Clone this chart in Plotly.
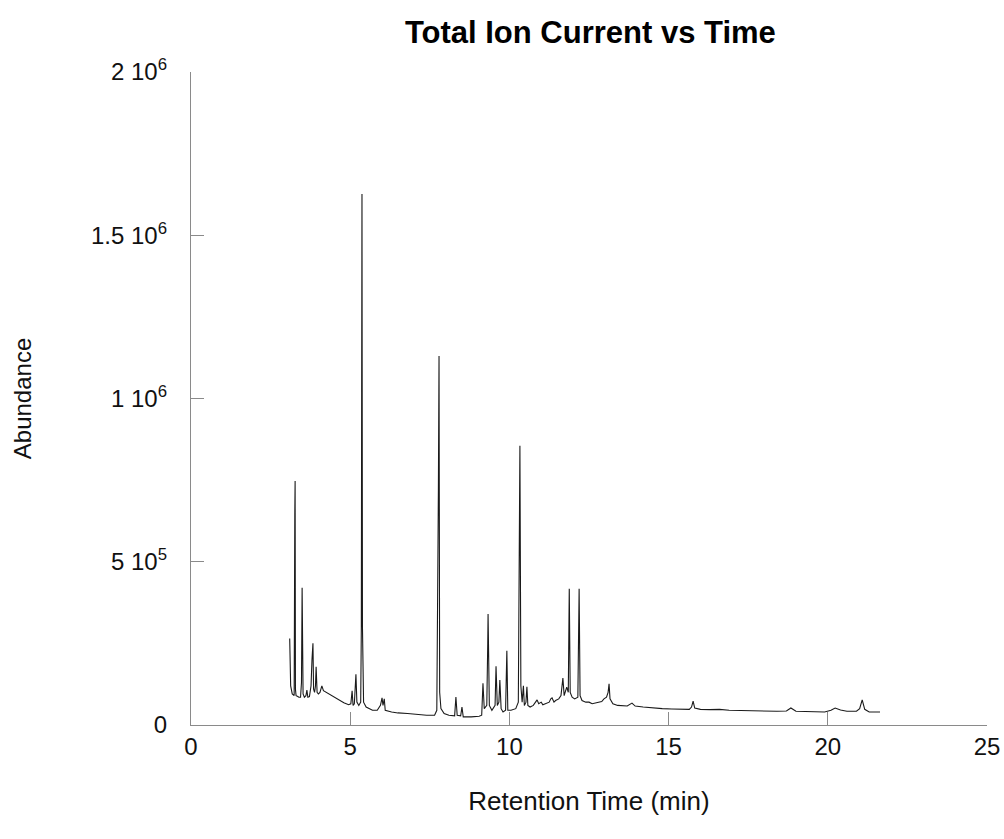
import plotly.graph_objects as go

# Retention time (min) and abundance (counts)
rt_min = [
    3.10, 3.13, 3.18, 3.24, 3.26, 3.27, 3.28, 3.30, 3.34, 3.39, 3.44, 3.47, 3.49, 3.50, 3.52,
    3.56, 3.61, 3.64, 3.67, 3.72, 3.77, 3.80, 3.83, 3.85, 3.88, 3.91, 3.93, 3.96, 4.00, 4.05,
    4.11, 4.16, 4.25, 4.40, 4.60, 4.80, 4.95, 5.02, 5.06, 5.09, 5.13, 5.16, 5.18, 5.21, 5.27,
    5.33, 5.35, 5.36, 5.37, 5.385, 5.42, 5.50, 5.60, 5.70, 5.85, 5.95, 6.00, 6.03, 6.07, 6.10,
    6.30, 6.50, 6.80, 7.10, 7.40, 7.65, 7.72, 7.77, 7.79, 7.81, 7.85, 7.95, 8.10, 8.28, 8.32,
    8.36, 8.47, 8.51, 8.55, 8.80, 9.05, 9.13, 9.17, 9.21, 9.29, 9.32, 9.33, 9.37, 9.45, 9.55,
    9.58, 9.62, 9.67, 9.70, 9.74, 9.80, 9.88, 9.92, 9.95, 10.05, 10.20, 10.28, 10.33, 10.36,
    10.40, 10.44, 10.47, 10.52, 10.55, 10.58, 10.65, 10.75, 10.82, 10.87, 10.92, 11.00, 11.05,
    11.15, 11.25, 11.30, 11.34, 11.40, 11.45, 11.55, 11.62, 11.68, 11.72, 11.80, 11.85, 11.88,
    11.91, 11.97, 12.05, 12.15, 12.18, 12.19, 12.22, 12.28, 12.40, 12.50, 12.60, 12.70, 12.80,
    12.90, 12.97, 13.05, 13.10, 13.13, 13.16, 13.25, 13.40, 13.55, 13.70, 13.85, 13.95, 14.20,
    14.50, 14.80, 15.10, 15.40, 15.65, 15.72, 15.77, 15.82, 16.00, 16.30, 16.60, 16.90, 17.20,
    17.50, 17.80, 18.10, 18.40, 18.70, 18.84, 19.00, 19.30, 19.60, 19.90, 20.10, 20.23, 20.40,
    20.60, 20.90, 21.00, 21.08, 21.16, 21.30, 21.50, 21.64,
]

abundance_e6 = [
    0.265, 0.120, 0.095, 0.090, 0.650, 0.747, 0.110, 0.090, 0.088, 0.085, 0.085, 0.130, 0.420, 0.290, 0.095,
    0.085, 0.090, 0.107, 0.085, 0.087, 0.120, 0.200, 0.250, 0.110, 0.100, 0.120, 0.178, 0.100, 0.095, 0.100,
    0.120, 0.105, 0.100, 0.090, 0.078, 0.068, 0.062, 0.065, 0.105, 0.060, 0.065, 0.130, 0.155, 0.070, 0.060,
    0.070, 0.300, 1.020, 1.626, 0.300, 0.070, 0.055, 0.050, 0.045, 0.045, 0.060, 0.083, 0.060, 0.080, 0.045,
    0.040, 0.037, 0.035, 0.032, 0.030, 0.030, 0.045, 0.720, 1.130, 0.100, 0.050, 0.035, 0.030, 0.028, 0.086,
    0.030, 0.028, 0.055, 0.025, 0.025, 0.027, 0.030, 0.128, 0.050, 0.060, 0.250, 0.340, 0.060, 0.045, 0.060,
    0.180, 0.060, 0.070, 0.138, 0.050, 0.040, 0.045, 0.227, 0.045, 0.045, 0.050, 0.070, 0.855, 0.120,
    0.070, 0.120, 0.060, 0.070, 0.117, 0.060, 0.055, 0.060, 0.070, 0.077, 0.065, 0.070, 0.062,
    0.065, 0.070, 0.080, 0.083, 0.070, 0.075, 0.080, 0.090, 0.144, 0.090, 0.116, 0.100, 0.417,
    0.100, 0.085, 0.080, 0.085, 0.290, 0.417, 0.090, 0.075, 0.070, 0.070, 0.065, 0.068, 0.070,
    0.072, 0.080, 0.085, 0.100, 0.126, 0.080, 0.065, 0.060, 0.058, 0.058, 0.067, 0.058, 0.055,
    0.052, 0.050, 0.049, 0.048, 0.048, 0.055, 0.073, 0.052, 0.048, 0.047, 0.048, 0.045, 0.044,
    0.043, 0.043, 0.043, 0.042, 0.043, 0.052, 0.042, 0.041, 0.040, 0.040, 0.045, 0.052, 0.046,
    0.042, 0.042, 0.050, 0.077, 0.048, 0.040, 0.041, 0.040,
]

abundance = [v * 1e6 for v in abundance_e6]

x_tick_vals = [0, 5, 10, 15, 20, 25]
x_tick_text = ["0", "5", "10", "15", "20", "25"]
y_tick_vals = [0, 5e5, 1e6, 1.5e6, 2e6]
y_tick_text = ["0", "5 10<sup>5</sup>", "1 10<sup>6</sup>", "1.5 10<sup>6</sup>", "2 10<sup>6</sup>"]

FONT = "Liberation Sans, Arial, Helvetica, sans-serif"

fig = go.Figure()
fig.add_trace(go.Scatter(
    x=rt_min, y=abundance, mode="lines",
    line=dict(color="#1a1a1a", width=1.1),
    showlegend=False, hoverinfo="x+y",
))

fig.update_layout(
    width=1004, height=839,
    paper_bgcolor="white", plot_bgcolor="white",
    margin=dict(l=191, r=17, t=72, b=114, autoexpand=False),
    font=dict(family=FONT, size=24, color="#111"),
    title=dict(text="<b>Total Ion Current vs Time</b>", x=0.588, xanchor="center",
               y=0.962, yanchor="middle", font=dict(family=FONT, size=31, color="#000")),
)

fig.update_xaxes(
    range=[0, 25], tickmode="array", tickvals=x_tick_vals, ticktext=x_tick_text,
    showgrid=False, zeroline=False, showline=True, linecolor="#8a8a8a", linewidth=1.3,
    ticks="inside", ticklen=13, tickcolor="#8a8a8a", tickwidth=1.3,
    tickfont=dict(size=24, color="#111"), automargin=False,
    title=dict(text="Retention Time (min)", standoff=32, font=dict(size=26, color="#111")),
)
fig.update_yaxes(
    range=[0, 2e6], tickmode="array", tickvals=y_tick_vals, ticktext=y_tick_text,
    showgrid=False, zeroline=False, showline=True, linecolor="#8a8a8a", linewidth=1.3,
    ticks="inside", ticklen=13, tickcolor="#8a8a8a", tickwidth=1.3,
    tickfont=dict(size=24, color="#111"), ticklabelstandoff=18, automargin=False,
    title=dict(text="Abundance", standoff=52, font=dict(size=24, color="#111")),
)

# remove the default 8px page margin so the figure fills the window exactly
fig.write_html("out.html", config={"displayModeBar": False},
               post_script="document.body.style.margin='0';")
